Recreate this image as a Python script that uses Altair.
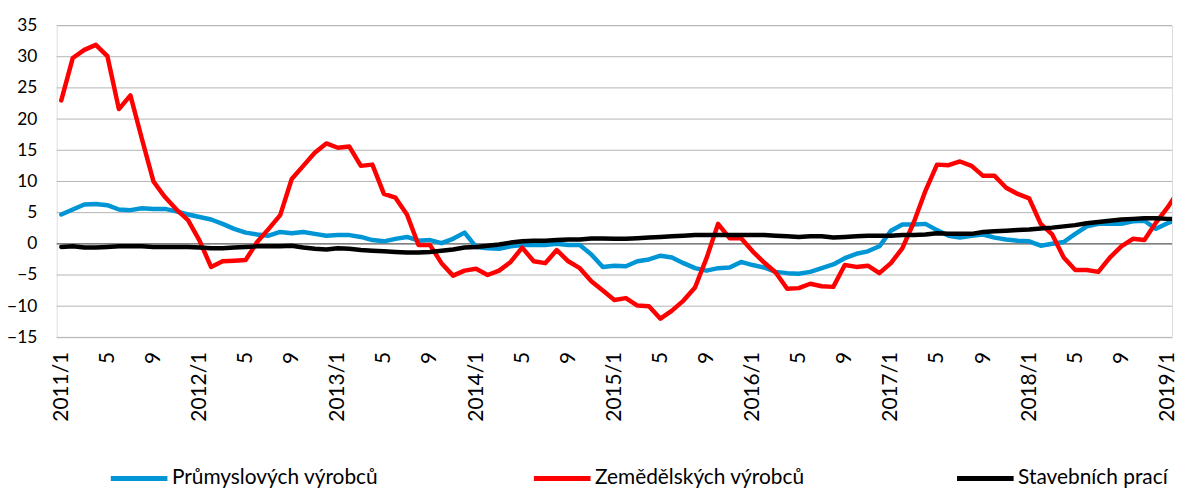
import json
import altair as alt
import pandas as pd

series_names = ["Průmyslových výrobců", "Zemědělských výrobců", "Stavebních prací"]
series_colors = ["#0096D6", "#FF0000", "#000000"]

tick_labels = ["2011/1", "5", "9", "2012/1", "5", "9", "2013/1", "5", "9",
               "2014/1", "5", "9", "2015/1", "5", "9", "2016/1", "5", "9",
               "2017/1", "5", "9", "2018/1", "5", "9", "2019/1"]
y_ticks = [-15, -10, -5, 0, 5, 10, 15, 20, 25, 30, 35]
grid_values = [-15, -10, -5, 5, 10, 15, 20, 25, 30, 35]

# monthly values, 2011/1 ... 2019/2
prumysl = [4.7, 5.5, 6.3, 6.4, 6.2, 5.5, 5.4, 5.7, 5.6, 5.6, 5.2, 4.7,
           4.3, 3.9, 3.2, 2.4, 1.8, 1.5, 1.3, 1.9, 1.7, 1.9, 1.6, 1.3,
           1.4, 1.4, 1.1, 0.6, 0.4, 0.8, 1.1, 0.5, 0.6, 0.1, 0.8, 1.8,
           -0.5, -0.7, -0.8, -0.4, -0.2, -0.2, -0.2, 0.0, -0.2, -0.2, -1.7, -3.7,
           -3.5, -3.6, -2.8, -2.5, -1.9, -2.2, -3.1, -3.9, -4.3, -3.9, -3.8, -2.9,
           -3.4, -3.8, -4.5, -4.7, -4.8, -4.5, -3.9, -3.3, -2.3, -1.6, -1.2, -0.4,
           2.1, 3.1, 3.1, 3.2, 2.2, 1.3, 1.0, 1.3, 1.5, 1.0, 0.7, 0.5,
           0.4, -0.3, 0.0, 0.3, 1.6, 2.8, 3.2, 3.2, 3.2, 3.6, 3.7, 2.4,
           3.3, 4.0]

zemed = [23.0, 29.8, 31.1, 31.9, 30.1, 21.6, 23.8, 16.8, 10.0, 7.5, 5.5, 3.8,
         0.5, -3.7, -2.8, -2.7, -2.6, 0.3, 2.4, 4.6, 10.4, 12.5, 14.6, 16.1,
         15.4, 15.6, 12.5, 12.7, 8.0, 7.4, 4.7, -0.2, -0.2, -3.1, -5.1, -4.3,
         -4.0, -5.0, -4.3, -2.9, -0.6, -2.8, -3.1, -1.0, -2.8, -3.9, -6.0, -7.5,
         -9.0, -8.7, -9.9, -10.0, -12.0, -10.7, -9.1, -7.0, -2.3, 3.2, 0.9, 0.9,
         -1.2, -3.0, -4.6, -7.2, -7.1, -6.4, -6.8, -6.9, -3.4, -3.7, -3.5, -4.7,
         -3.1, -0.7, 3.5, 8.5, 12.7, 12.6, 13.2, 12.5, 10.9, 10.9, 9.0, 8.0,
         7.3, 3.2, 1.5, -2.2, -4.2, -4.2, -4.5, -2.2, -0.4, 0.8, 0.6, 3.4,
         5.8, 8.6]

staveb = [-0.5, -0.4, -0.6, -0.6, -0.5, -0.4, -0.4, -0.4, -0.5, -0.5, -0.5, -0.5,
          -0.6, -0.7, -0.7, -0.6, -0.5, -0.4, -0.4, -0.4, -0.3, -0.6, -0.8, -0.9,
          -0.7, -0.8, -1.0, -1.1, -1.2, -1.3, -1.4, -1.4, -1.3, -1.1, -0.9, -0.6,
          -0.5, -0.3, -0.1, 0.2, 0.4, 0.5, 0.5, 0.6, 0.7, 0.7, 0.85, 0.85,
          0.8, 0.8, 0.9, 1.0, 1.1, 1.2, 1.3, 1.4, 1.4, 1.4, 1.4, 1.4,
          1.4, 1.4, 1.3, 1.2, 1.1, 1.2, 1.2, 1.0, 1.1, 1.2, 1.3, 1.3,
          1.3, 1.4, 1.4, 1.5, 1.7, 1.6, 1.6, 1.6, 1.9, 2.0, 2.1, 2.2,
          2.3, 2.45, 2.6, 2.8, 3.0, 3.3, 3.5, 3.7, 3.9, 4.0, 4.1, 4.1,
          4.0, 4.0]

rows = []
for name, vals in zip(series_names, [prumysl, zemed, staveb]):
    for i, v in enumerate(vals):
        rows.append({"i": i, "v": v, "s": name})
df = pd.DataFrame(rows)

FONT = "Lato"
label_expr = json.dumps(tick_labels) + "[round(datum.value / 4)]"

x_enc = alt.X(
    "i:Q",
    scale=alt.Scale(domain=[-0.4, 96.4], nice=False, zero=False),
    axis=alt.Axis(values=list(range(0, 97, 4)), labelExpr=label_expr,
                  labelAngle=270, grid=False, ticks=False, domain=False,
                  labelFont=FONT, labelFontSize=21, labelColor="#000000",
                  labelPadding=14, title=None, labelOverlap=False),
)
y_scale = alt.Scale(domain=[-15, 35], nice=False, zero=False)
y_axis = alt.Axis(values=y_ticks, grid=False, ticks=False, tickSize=0,
                  domain=False, labelFont=FONT, labelFontSize=17.5,
                  labelColor="#000000", labelPadding=20, title=None,
                  labelOverlap=False)

color_enc = alt.Color(
    "s:N",
    scale=alt.Scale(domain=series_names, range=series_colors),
    legend=alt.Legend(orient="none", legendX=52, legendY=425,
                      direction="horizontal", columns=3, title=None,
                      symbolType="stroke", symbolSize=3249, symbolStrokeWidth=5,
                      labelFont=FONT, labelFontSize=21, labelColor="#000000",
                      labelOffset=2, labelLimit=0, gridAlign="all",
                      columnPadding=142, padding=0),
)

# y axis (labels) comes from this layer only
zero_rule = alt.Chart(pd.DataFrame({"v": [0]})).mark_rule(
    color="#595959", strokeWidth=1.3
).encode(y=alt.Y("v:Q", scale=y_scale, axis=y_axis))

grid_rules = alt.Chart(pd.DataFrame({"g": grid_values})).mark_rule(
    color="#b4b4b4", strokeWidth=1
).encode(y=alt.Y("g:Q", scale=y_scale, axis=None))

lines = [
    alt.Chart(df).transform_filter(alt.datum.s == name).mark_line(
        strokeWidth=4.5, clip=True, strokeCap="round", strokeJoin="round"
    ).encode(x=x_enc, y=alt.Y("v:Q", scale=y_scale, axis=None),
             color=color_enc, order="i:Q")
    for name in series_names
]

chart = alt.layer(grid_rules, zero_rule, *lines).resolve_axis(
    y="independent"
).properties(
    width=1123, height=314,
    autosize=alt.AutoSizeParams(type="none"),
    padding={"left": 49, "top": 16, "right": 8, "bottom": 150},
).configure_view(stroke=None).configure(background="white")

chart.save("out.html", embed_options={"renderer": "svg", "actions": False})
